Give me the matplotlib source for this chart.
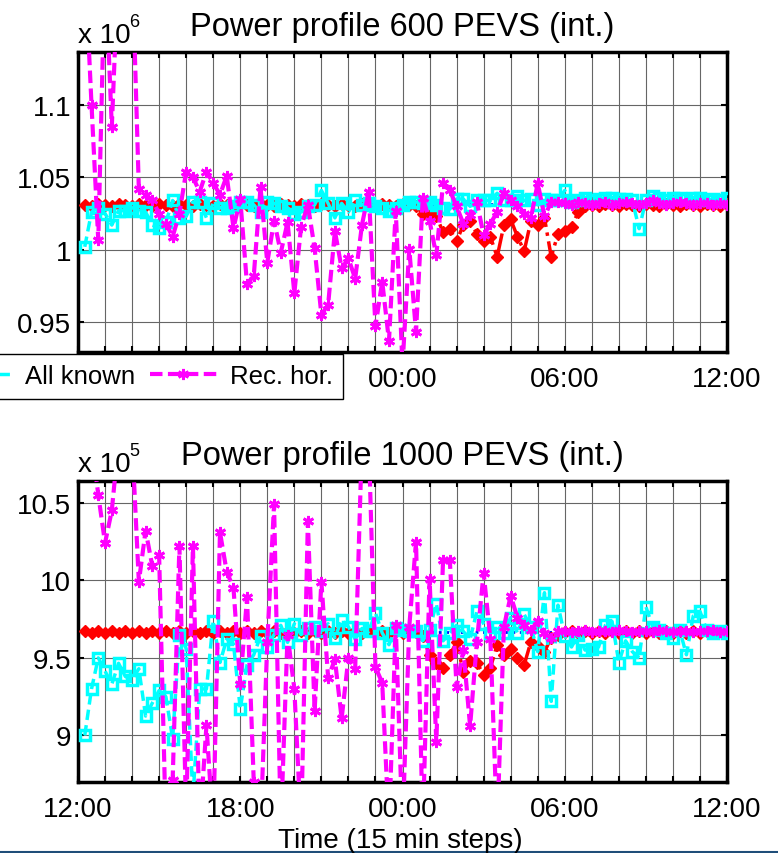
import matplotlib
matplotlib.use('Agg')
import matplotlib.pyplot as plt
import numpy as np
from matplotlib.ticker import FuncFormatter
from matplotlib.lines import Line2D

plt.rcParams['font.family'] = ['Liberation Sans', 'DejaVu Sans']

# ---------------- data ----------------
steps = np.arange(1, 97)                      # 15-minute steps, 12:00 -> 12:00
xtick_steps = np.arange(0, 97, 4)             # hourly grid
time_labels = ['12:00', '18:00', '00:00', '06:00', '12:00']   # every 24 steps

# Top panel (x 10^6)
top_optimal = [1.0315] * 96
top_red = [
    1.031, 1.0305, 1.0315, 1.031, 1.0305, 1.0315, 1.031, 1.0305, 1.0315, 1.031, 1.0305, 1.0315,
    1.031, 1.0305, 1.0315, 1.031, 1.0305, 1.0315, 1.031, 1.0305, 1.0315, 1.031, 1.0305, 1.0315,
    1.031, 1.0305, 1.0315, 1.031, 1.0305, 1.0315, 1.031, 1.0305, 1.0315, 1.031, 1.0305, 1.0315,
    1.031, 1.0305, 1.0315, 1.031, 1.0305, 1.0315, 1.031, 1.0305, 1.0315, 1.031, 1.0305, 1.0315,
    1.031, 1.030, 1.025, 1.024, 1.0235, 1.012, 1.014, 1.006, 1.017, 1.020, 1.011, 1.006,
    1.009, 0.995, 1.017, 1.021, 1.009, 0.999, 1.020, 1.017, 1.022, 0.995, 1.011, 1.013,
    1.016, 1.026, 1.030, 1.031, 1.0305, 1.0315, 1.031, 1.0305, 1.0315, 1.031, 1.0305, 1.0315,
    1.031, 1.0305, 1.0315, 1.031, 1.0305, 1.0315, 1.031, 1.0305, 1.0315, 1.031, 1.0305, 1.0315,
]
top_allknown = [
    1.002, 1.026, 1.029, 1.025, 1.017, 1.027, 1.027, 1.029, 1.027, 1.026, 1.017, 1.015,
    1.019, 1.034, 1.022, 1.023, 1.033, 1.033, 1.022, 1.032, 1.029, 1.029, 1.030, 1.033,
    1.033, 1.031, 1.026, 1.033, 1.032, 1.030, 1.029, 1.025, 1.026, 1.030, 1.031, 1.041,
    1.032, 1.022, 1.032, 1.026, 1.034, 1.031, 1.032, 1.030, 1.029, 1.027, 1.029, 1.031,
    1.033, 1.033, 1.032, 1.033, 1.031, 1.029, 1.028, 1.035, 1.035, 1.030, 1.034, 1.034,
    1.034, 1.039, 1.034, 1.034, 1.037, 1.034, 1.035, 1.031, 1.035, 1.034, 1.034, 1.041,
    1.033, 1.034, 1.036, 1.034, 1.035, 1.036, 1.036, 1.035, 1.035, 1.034, 1.0145, 1.034,
    1.037, 1.036, 1.034, 1.036, 1.036, 1.035, 1.036, 1.036, 1.034, 1.035, 1.034, 1.036,
]
top_rechor = [
    1.20, 1.100, 1.0065, 1.20, 1.085, 1.20, 1.20, 1.20, 1.042, 1.038, 1.034, 1.025,
    1.018, 1.009, 1.025, 1.054, 1.050, 1.040, 1.054, 1.046, 1.038, 1.051, 1.015, 1.035,
    0.976, 0.982, 1.043, 0.991, 1.020, 0.998, 1.019, 0.970, 1.016, 1.031, 1.001, 0.955,
    0.962, 1.013, 0.987, 0.994, 0.980, 1.017, 1.040, 0.947, 0.978, 0.937, 1.027, 0.920,
    1.0007, 0.943, 1.036, 1.020, 0.996, 1.046, 1.041, 1.030, 1.018, 1.024, 1.033, 1.010,
    1.018, 1.026, 1.039, 1.034, 1.030, 1.025, 1.022, 1.046, 1.023, 1.033, 1.033, 1.032,
    1.031, 1.033, 1.032, 1.031, 1.032, 1.033, 1.031, 1.032, 1.033, 1.032, 1.031, 1.032,
    1.034, 1.032, 1.031, 1.032, 1.033, 1.032, 1.031, 1.032, 1.032, 1.031, 1.032, 1.031,
]
top_yticks = [0.95, 1.0, 1.05, 1.1]
top_ylim = (0.9293, 1.1366)

# Bottom panel (x 10^5)
bot_optimal = [9.668] * 96
bot_red = [
    9.67, 9.66, 9.672, 9.662, 9.67, 9.66, 9.672, 9.662, 9.67, 9.66, 9.672, 9.662,
    9.67, 9.66, 9.672, 9.662, 9.67, 9.66, 9.672, 9.662, 9.67, 9.66, 9.672, 9.662,
    9.67, 9.66, 9.672, 9.662, 9.67, 9.66, 9.672, 9.662, 9.67, 9.66, 9.672, 9.662,
    9.67, 9.66, 9.672, 9.662, 9.67, 9.66, 9.672, 9.662, 9.67, 9.66, 9.672, 9.662,
    9.67, 9.665, 9.64, 9.52, 9.47, 9.435, 9.52, 9.60, 9.41, 9.48, 9.47, 9.39,
    9.435, 9.585, 9.52, 9.56, 9.50, 9.455, 9.605, 9.575, 9.54, 9.63, 9.65, 9.665,
    9.67, 9.66, 9.672, 9.662, 9.67, 9.66, 9.672, 9.662, 9.67, 9.66, 9.672, 9.662,
    9.67, 9.66, 9.672, 9.662, 9.67, 9.66, 9.672, 9.662, 9.67, 9.66, 9.672, 9.662,
]
bot_allknown = [
    9.00, 9.30, 9.50, 9.415, 9.33, 9.465, 9.38, 9.36, 9.43, 9.125, 9.21, 9.29,
    9.25, 8.98, 9.65, 9.56, 8.60, 9.30, 9.30, 9.74, 9.47, 9.62, 9.59, 9.17,
    9.455, 9.52, 9.64, 9.57, 9.65, 9.71, 9.60, 9.72, 9.65, 9.69, 9.70, 9.67,
    9.72, 9.63, 9.745, 9.70, 9.62, 9.69, 9.67, 9.79, 9.66, 9.585, 9.69, 9.68,
    9.67, 9.67, 9.61, 9.68, 9.85, 9.61, 9.66, 9.71, 9.67, 9.62, 9.80, 9.72,
    9.66, 9.70, 9.66, 9.76, 9.66, 9.78, 9.70, 9.54, 9.92, 9.22, 9.84, 9.64,
    9.57, 9.65, 9.55, 9.56, 9.57, 9.71, 9.735, 9.47, 9.61, 9.54, 9.50, 9.83,
    9.70, 9.68, 9.66, 9.63, 9.68, 9.52, 9.77, 9.80, 9.68, 9.66, 9.67, 9.66,
]
bot_rechor = [
    10.9, 10.9, 10.55, 10.24, 10.45, 10.9, 10.9, 10.9, 9.99, 10.32, 10.09, 10.16,
    8.4, 8.71, 10.22, 8.5, 10.22, 8.4, 9.065, 8.4, 10.31, 10.055, 9.95, 9.33,
    9.89, 8.70, 8.4, 9.6, 10.49, 8.4, 9.65, 9.3, 8.4, 10.38, 9.16, 9.99,
    9.37, 9.49, 9.11, 9.50, 9.43, 10.9, 10.9, 9.44, 9.34, 8.4, 9.71, 8.4,
    9.70, 10.25, 8.4, 10.01, 8.96, 10.13, 10.13, 9.31, 9.55, 9.06, 9.6, 10.05,
    9.62, 8.4, 9.70, 9.90, 9.76, 9.71, 9.68, 9.735, 9.66, 9.63, 9.67, 9.675,
    9.665, 9.67, 9.68, 9.665, 9.67, 9.675, 9.665, 9.68, 9.67, 9.665, 9.675, 9.67,
    9.665, 9.68, 9.67, 9.665, 9.675, 9.67, 9.665, 9.675, 9.67, 9.68, 9.665, 9.67,
]
bot_yticks = [9.0, 9.5, 10.0, 10.5]
bot_ylim = (8.70, 10.64)

titles = ['Power profile 600 PEVS (int.)', 'Power profile 1000 PEVS (int.)']
exponents = ['6', '5']
legend_labels = ['All known', 'Rec. hor.']
xlabel = 'Time (15 min steps)'

# ---------------- figure ----------------
W, H = 778, 854
fig = plt.figure(figsize=(W / 100, H / 100), dpi=100)
ax1 = fig.add_axes([78 / W, 1 - 353 / H, 649 / W, 300 / H])
ax2 = fig.add_axes([78 / W, 1 - 783 / H, 649 / W, 301 / H])

xticklabels = [time_labels[i // 24] if i % 24 == 0 else '' for i in xtick_steps]
# in the top panel the first two labels lie hidden under the legend box
xticklabels_top = [lab if i >= 48 else '' for i, lab in zip(xtick_steps, xticklabels)]


def draw(ax, opt, red, known, rec, ylim, yticks, title, expo, xlabs):
    ax.plot(steps, opt, ':', color='blue', lw=2.0, zorder=3)
    ax.plot(steps, red, '-.', color='red', lw=2.5, marker='D', ms=6.5,
            mfc='red', mec='red', zorder=4)
    lk, = ax.plot(steps, known, color='cyan', lw=2.5, dashes=(3, 1.5),
                  marker='s', ms=7.5, mfc='none', mec='cyan', mew=2.5, zorder=5)
    lr, = ax.plot(steps, rec, color='magenta', lw=3, dashes=(3, 1.3),
                  marker=(6, 2, 0), ms=8, mec='magenta', mew=2, zorder=6)
    ax.set_xlim(0, 96)
    ax.set_ylim(*ylim)
    ax.set_xticks(xtick_steps)
    ax.set_xticklabels(xlabs)
    ax.set_yticks(yticks)
    ax.yaxis.set_major_formatter(FuncFormatter(lambda v, p: f'{v:g}'))
    ax.tick_params(direction='in', top=True, right=True, length=4, width=1.5,
                   labelsize=20, color='black')
    ax.tick_params(axis='x', pad=10)
    ax.tick_params(axis='y', pad=5)
    ax.grid(True, color='#666666', lw=0.8)
    ax.set_axisbelow(True)
    for s in ax.spines.values():
        s.set_linewidth(2.5)
    ax.set_title(title, fontsize=23.5, pad=12)
    ax.text(0.0, 1.033, 'x 10', transform=ax.transAxes, fontsize=20,
            ha='left', va='baseline')
    ax.text(0.079, 1.087, expo, transform=ax.transAxes, fontsize=13,
            ha='left', va='baseline')
    return lk, lr


lk, lr = draw(ax1, top_optimal, top_red, top_allknown, top_rechor,
              top_ylim, top_yticks, titles[0], exponents[0], xticklabels_top)
draw(ax2, bot_optimal, bot_red, bot_allknown, bot_rechor,
     bot_ylim, bot_yticks, titles[1], exponents[1], xticklabels)

fig.text(400 / W, 1 - 848 / H, xlabel, fontsize=20, ha='center', va='baseline')

leg = fig.legend([lk, lr], legend_labels, loc='upper right',
                 bbox_to_anchor=(343 / W, 1 - 355 / H), ncol=2, fontsize=18.5,
                 frameon=True, fancybox=False, edgecolor='black', framealpha=1,
                 handlelength=2.6, handletextpad=0.5, columnspacing=0.6,
                 borderpad=0.4, borderaxespad=0)
leg.get_frame().set_linewidth(1.0)
leg.set_zorder(20)

fig.add_artist(Line2D([0, 1], [1 - 852.5 / H, 1 - 852.5 / H],
                      transform=fig.transFigure, color='#1f4e79', lw=1.5))

fig.savefig('out.png', dpi=100)
